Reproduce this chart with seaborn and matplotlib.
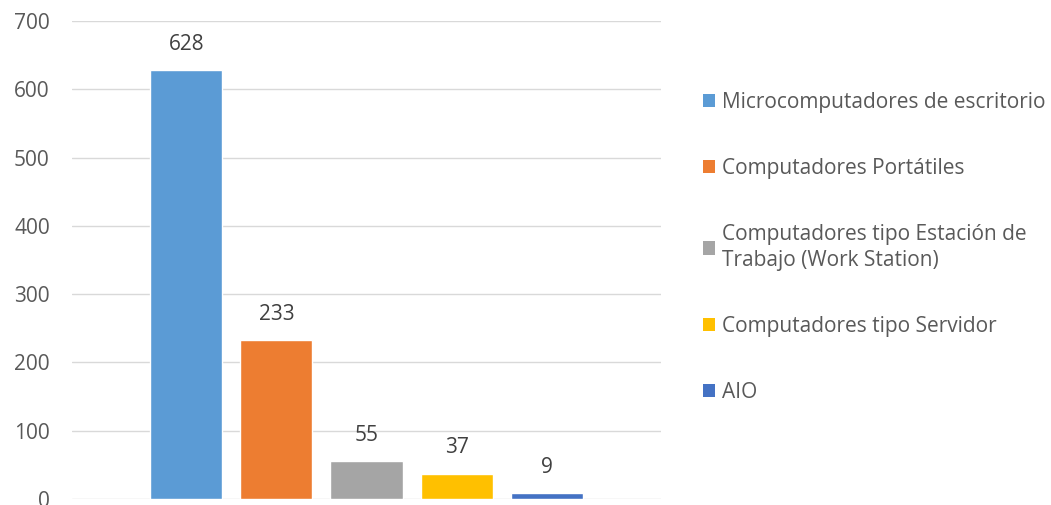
import matplotlib
matplotlib.use("Agg")
import matplotlib.pyplot as plt
import seaborn as sns
from matplotlib.patches import Patch

# datos del gráfico
categorias = [
    "Microcomputadores de escritorio",
    "Computadores Portátiles",
    "Computadores tipo Estación de\nTrabajo (Work Station)",
    "Computadores tipo Servidor",
    "AIO",
]
valores = [628, 233, 55, 37, 9]
colores = ["#5B9BD5", "#ED7D31", "#A5A5A5", "#FFC000", "#4472C4"]
ticks_y = [0, 100, 200, 300, 400, 500, 600, 700]

sns.set_style("white")
plt.rcParams["font.family"] = ["Open Sans", "DejaVu Sans"]

fig = plt.figure(figsize=(10.51, 5.05), dpi=100)
ax = fig.add_axes([72 / 1051, 6 / 505, 589 / 1051, 478 / 505])

sns.barplot(x=categorias, y=valores, hue=categorias, palette=colores,
            width=0.8, legend=False, ax=ax, saturation=1)

for c in ax.containers:
    ax.bar_label(c, padding=11, fontsize=15, color="#404040")

ax.set_ylim(0, 700)
ax.set_xlim(-1.272, 5.272)
ax.set_yticks(ticks_y)
ax.set_xticks([])
ax.tick_params(axis="y", length=0, pad=16, labelsize=15, labelcolor="#595959")
ax.grid(axis="y", color="#D9D9D9", linewidth=1.0)
ax.set_axisbelow(True)
for s in ax.spines.values():
    s.set_visible(False)
ax.set_xlabel("")
ax.set_ylabel("")

handles = [Patch(facecolor=col, edgecolor="none") for col in colores]
leg = fig.legend(handles, categorias, loc="center left",
                 bbox_to_anchor=(684 / 1051, 0.51), frameon=False,
                 fontsize=15, labelcolor="#595959", handlelength=0.6,
                 handleheight=0.6, handletextpad=0.3, labelspacing=2.15)
for t in leg.get_texts():
    t.set_linespacing(1.35)

fig.savefig("out.png", dpi=100)
